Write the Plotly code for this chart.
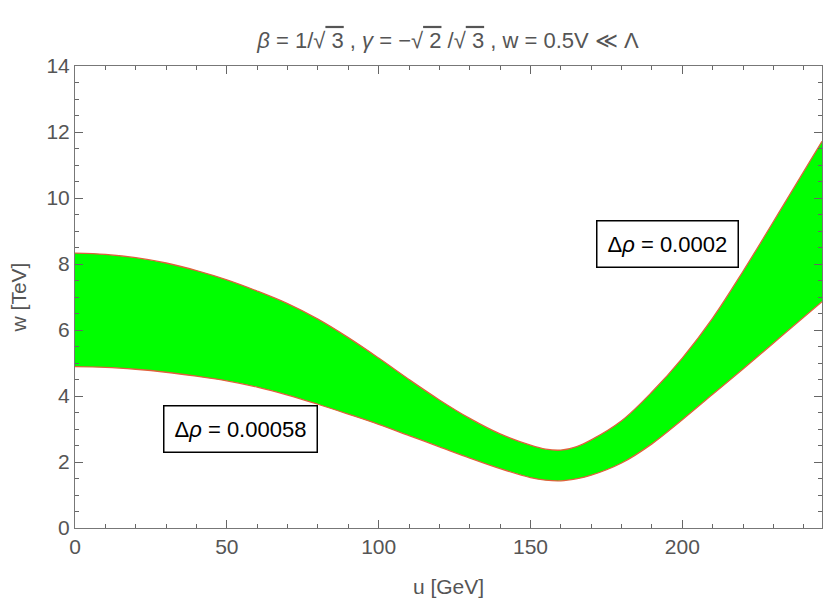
import plotly.graph_objects as go

# Upper boundary of the allowed band (u in GeV, w in TeV)
u_up = [0, 10, 20, 30, 40, 50, 60, 70, 80, 90, 100, 110, 120, 130, 140, 150, 155, 160, 165, 170, 180, 190, 200, 210, 220, 233, 246]
w_up = [8.33, 8.29, 8.19, 8.03, 7.80, 7.52, 7.18, 6.80, 6.33, 5.77, 5.15, 4.50, 3.88, 3.32, 2.85, 2.51, 2.39, 2.36, 2.46, 2.67, 3.25, 4.12, 5.15, 6.36, 7.78, 9.74, 11.72]

# Lower boundary of the allowed band
u_lo = [0, 10, 20, 30, 40, 50, 60, 70, 80, 90, 100, 110, 120, 130, 140, 150, 155, 160, 165, 170, 180, 190, 200, 210, 220, 233, 246]
w_lo = [4.89, 4.87, 4.81, 4.72, 4.60, 4.46, 4.27, 4.03, 3.75, 3.45, 3.14, 2.80, 2.46, 2.12, 1.80, 1.53, 1.45, 1.43, 1.49, 1.60, 1.97, 2.55, 3.28, 4.05, 4.82, 5.84, 6.86]

labels = ["Δ<i>ρ</i> = 0.00058", "Δ<i>ρ</i> = 0.0002"]
label_u = [54.4, 195.2]
label_w = [3.0, 8.61]

x_ticks = [0, 50, 100, 150, 200]
y_ticks = [0, 2, 4, 6, 8, 10, 12, 14]

FONT = "Liberation Sans, Arial"
edge = "#e0603c"
fig = go.Figure()
fig.add_trace(go.Scatter(x=u_lo, y=w_lo, mode="lines", line=dict(color=edge, width=1.3, shape="spline", smoothing=1.0),
                         hoverinfo="skip", showlegend=False))
fig.add_trace(go.Scatter(x=u_up, y=w_up, mode="lines", line=dict(color=edge, width=1.3, shape="spline", smoothing=1.0),
                         fill="tonexty", fillcolor="#00ff00", hoverinfo="skip", showlegend=False))

for t, xu, yw in zip(labels, label_u, label_w):
    fig.add_annotation(x=xu, y=yw, text=t, showarrow=False,
                       font=dict(family=FONT, size=22, color="black"),
                       bgcolor="white", bordercolor="black", borderwidth=1.5, borderpad=10)

axis_common = dict(showgrid=False, zeroline=False, showline=True, linecolor="#777", linewidth=1,
                   ticks="inside", ticklen=8, tickwidth=1, tickcolor="#666", mirror="allticks",
                   tickfont=dict(family=FONT, size=21, color="#555"))

fig.update_xaxes(range=[0, 246], tickvals=x_ticks, **axis_common,
                 minor=dict(dtick=10, ticks="inside", ticklen=4, tickwidth=1, tickcolor="#666"),
                 title=dict(text="u [GeV]", font=dict(family=FONT, size=21, color="#555"), standoff=22))
fig.update_yaxes(range=[0, 14], tickvals=y_ticks, **axis_common,
                 minor=dict(dtick=0.5, ticks="inside", ticklen=4, tickwidth=1, tickcolor="#666"),
                 title=dict(text="w [TeV]", font=dict(family=FONT, size=21, color="#555"), standoff=14))

ol = "<span style='text-decoration:overline'>"
fig.update_layout(
    width=825, height=609,
    margin=dict(l=75, r=3, t=66, b=81),
    plot_bgcolor="white", paper_bgcolor="white",
    title=dict(text=f"<i>β</i> = 1/√{ol} 3</span> , <i>γ</i> = −√{ol} 2</span> /√{ol} 3</span> , w = 0.5V ≪ Λ",
               x=0.543, xanchor="center", y=0.934, yanchor="middle",
               font=dict(family=FONT, size=22, color="#555")),
)

fig.write_html("out.html")
